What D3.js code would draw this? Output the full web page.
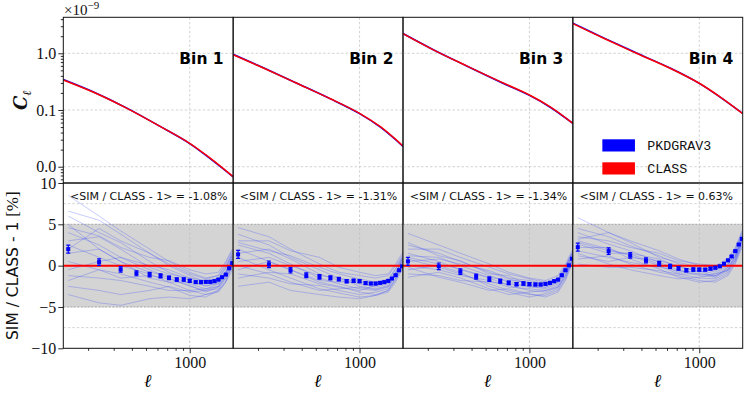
<!DOCTYPE html>
<html>
<head>
<meta charset="utf-8">
<script src="https://cdn.jsdelivr.net/npm/d3@7"></script>
<style>
  body { margin: 0; background: #fff; }
  svg { display: block; }
</style>
</head>
<body>
<script>
// ---- data ----
const binNames = ["Bin 1", "Bin 2", "Bin 3", "Bin 4"];
const meanText = ["-1.08%", "-1.31%", "-1.34%", "0.63%"];

// C_ell curves (units of 1e-9)
const ellCurve = [135, 220, 370, 630, 1000, 1390, 1990];
const classCl = [
  [0.338, 0.203, 0.107, 0.0510, 0.0259, 0.0140, 0.00667],
  [0.945, 0.544, 0.296, 0.158, 0.0875, 0.0507, 0.0232],
  [2.22, 1.14, 0.600, 0.316, 0.184, 0.114, 0.0582],
  [3.33, 1.84, 1.0, 0.544, 0.296, 0.170, 0.0861]
];
const pkdCl = [
  [0.345, 0.206, 0.108, 0.0508, 0.0256, 0.0137, 0.00662],
  [0.958, 0.550, 0.297, 0.157, 0.0862, 0.0497, 0.0229],
  [2.23, 1.145, 0.598, 0.312, 0.181, 0.112, 0.0581],
  [3.40, 1.87, 1.013, 0.549, 0.295, 0.169, 0.0868]
];

// mean ratio points with error bars
const ellBins = [146, 238, 335, 430, 530, 630, 720, 815, 910, 1000, 1100, 1195, 1290, 1385, 1480, 1575, 1670, 1770, 1870, 1965];
const meanRatio = [
  [2.0, 0.43, -0.45, -0.92, -1.08, -1.24, -1.48, -1.68, -1.68, -1.84, -2.0, -2.0, -1.96, -1.96, -1.88, -1.68, -1.4, -1.08, -0.32, 0.3],
  [1.36, 0.16, -0.56, -1.16, -1.36, -1.48, -1.64, -1.88, -1.84, -1.88, -2.12, -2.16, -2.16, -2.08, -2.0, -1.84, -1.56, -1.16, -0.56, -0.08],
  [0.52, -0.08, -0.72, -1.32, -1.64, -1.88, -2.08, -2.24, -2.16, -2.24, -2.28, -2.28, -2.2, -2.08, -1.88, -1.68, -1.16, -0.56, 0.04, 0.84],
  [2.24, 1.76, 1.24, 0.64, 0.24, -0.08, -0.32, -0.56, -0.48, -0.48, -0.48, -0.36, -0.24, -0.08, 0.24, 0.64, 1.12, 1.76, 2.56, 3.24]
];
const errRatio = [0.48, 0.4, 0.33, 0.3, 0.27, 0.25, 0.22, 0.2, 0.2, 0.18, 0.16, 0.15, 0.14, 0.13, 0.12, 0.12, 0.11, 0.1, 0.1, 0.1];

// individual simulations (thin lines)
const simEll = [146, 238, 335, 530, 720, 1000, 1290, 1575, 1770, 1965];
const simRatio = [
  [
    [8.5, 6.0, 4.2, 2.0, 0.5, -0.8, -1.5, -1.2, 0.3, 1.8],
    [6.6, 5.5, 3.8, 1.5, 0.0, -1.2, -2.0, -1.6, -0.2, 1.5],
    [6.0, 4.0, 2.8, 0.5, -0.8, -1.8, -2.5, -2.0, -0.8, 1.0],
    [4.6, 3.6, 2.2, 1.0, 0.6, -0.5, -1.0, -0.8, 0.5, 2.0],
    [4.0, 2.5, 1.0, -0.5, -1.5, -2.5, -3.0, -2.8, -1.5, 0.5],
    [3.0, 3.5, 2.0, -0.2, -1.0, -1.5, -1.8, -1.5, -0.3, 1.2],
    [2.5, 1.0, 0.0, -1.0, -2.0, -3.0, -3.5, -3.2, -2.0, 0.0],
    [1.5, 2.0, 0.5, -0.8, -1.2, -2.2, -2.8, -2.5, -1.0, 0.8],
    [0.5, -0.5, -1.0, -2.0, -2.6, -3.6, -3.8, -3.0, -1.8, 0.2],
    [-0.5, 0.5, 1.0, 0.0, -0.5, -1.5, -2.2, -2.0, -0.6, 1.2],
    [-1.2, -1.5, -1.8, -2.5, -3.0, -3.0, -2.8, -2.2, -1.0, 0.6],
    [-1.8, -0.5, -1.5, -1.2, -1.6, -2.4, -3.2, -2.6, -1.2, 0.4],
    [-2.5, -3.0, -3.5, -3.0, -2.5, -3.2, -3.0, -2.5, -1.5, 0.0],
    [-3.5, -4.5, -4.8, -4.0, -3.8, -4.0, -3.5, -3.0, -2.0, -0.5],
    [2.0, 4.5, 3.0, 1.5, 0.2, -1.0, -1.6, -1.2, 0.0, 1.5],
    [5.0, 2.0, 0.5, -1.5, -2.0, -2.0, -2.4, -2.2, -0.8, 0.8]
  ],
  [
    [4.6, 3.5, 2.0, 0.2, -0.8, -1.2, -1.5, -1.2, 0.0, 1.2],
    [3.8, 2.5, 1.0, -0.5, -1.5, -2.0, -2.4, -2.0, -0.8, 0.6],
    [3.0, 3.0, 1.8, 1.0, -0.2, -0.8, -1.2, -1.0, 0.2, 1.5],
    [2.5, 1.5, 0.2, -1.5, -2.2, -2.8, -3.0, -2.6, -1.2, 0.2],
    [2.0, 0.5, -0.5, -2.0, -2.5, -3.2, -3.5, -3.0, -1.8, -0.2],
    [1.5, 2.0, 0.8, -1.0, -1.8, -2.2, -2.6, -2.2, -1.0, 0.5],
    [1.0, -0.5, -1.5, -2.8, -3.3, -3.8, -3.6, -3.0, -1.5, 0.0],
    [0.5, 1.0, 0.0, -1.2, -1.5, -2.5, -2.8, -2.4, -1.0, 0.8],
    [0.0, -1.0, -2.0, -3.0, -2.8, -2.6, -2.9, -2.5, -1.2, 0.4],
    [-0.5, 0.5, -0.5, -1.8, -2.0, -1.8, -2.2, -1.8, -0.4, 1.0],
    [-1.0, -1.5, -2.2, -2.4, -3.0, -3.5, -3.2, -2.8, -1.6, 0.2],
    [-1.5, -0.8, -1.0, -2.2, -2.6, -3.0, -2.4, -2.0, -0.8, 0.8],
    [-2.5, -2.0, -3.0, -3.5, -3.8, -4.0, -3.6, -3.2, -2.0, -0.4],
    [2.8, 1.8, 1.2, -0.2, -1.0, -1.6, -2.0, -1.6, -0.4, 1.0]
  ],
  [
    [3.9, 2.5, 1.5, 0.2, -0.8, -1.5, -1.8, -1.2, 0.2, 1.8],
    [2.5, 1.5, 0.5, -0.8, -1.6, -2.2, -2.6, -2.0, -0.6, 1.2],
    [2.0, 2.0, 1.0, -0.2, -1.0, -1.6, -2.0, -1.5, 0.0, 1.5],
    [1.5, 0.5, -0.5, -1.5, -2.4, -3.0, -3.2, -2.6, -1.2, 0.6],
    [1.2, 1.0, 0.0, -1.2, -2.0, -2.5, -2.8, -2.2, -0.8, 1.0],
    [0.8, -0.2, -1.0, -2.2, -3.0, -3.5, -3.6, -3.0, -1.6, 0.4],
    [0.5, 0.8, 0.2, -0.6, -1.5, -1.8, -2.2, -1.8, -0.4, 1.4],
    [0.0, -0.5, -1.2, -1.8, -2.6, -2.8, -3.0, -2.4, -1.0, 0.8],
    [-0.5, 0.0, -0.8, -2.5, -3.2, -3.8, -3.4, -2.8, -1.4, 0.5],
    [-1.0, -1.2, -1.8, -2.0, -2.2, -2.6, -2.6, -2.0, -0.6, 1.1],
    [-1.4, -0.8, -1.5, -2.8, -3.5, -3.2, -3.0, -2.6, -1.2, 0.6],
    [1.0, 0.2, -0.4, -1.4, -1.8, -2.0, -2.4, -1.8, -0.2, 1.6],
    [-0.2, -1.4, -2.0, -3.0, -2.8, -3.4, -3.8, -3.2, -1.8, 0.2],
    [2.8, 1.2, 0.6, -1.0, -1.2, -2.4, -2.2, -1.6, -0.2, 1.4]
  ],
  [
    [5.8, 4.0, 3.0, 1.8, 0.8, 0.0, -0.2, 0.5, 2.0, 4.2],
    [4.5, 3.5, 2.4, 1.2, 0.2, -0.4, -0.6, 0.2, 1.6, 3.8],
    [4.0, 2.6, 1.8, 0.4, -0.5, -1.0, -1.2, -0.5, 1.0, 3.2],
    [3.5, 3.0, 2.2, 1.5, 0.6, 0.2, 0.0, 0.8, 2.2, 4.0],
    [3.0, 2.0, 1.2, 0.0, -1.0, -1.5, -1.6, -0.8, 0.6, 2.8],
    [2.6, 1.5, 1.5, 0.8, -0.2, -0.6, -1.0, -0.2, 1.2, 3.4],
    [2.2, 2.2, 0.8, -0.4, -1.4, -2.0, -1.8, -1.0, 0.4, 2.4],
    [1.8, 1.0, 0.4, -0.2, -0.6, -1.2, -1.4, -0.6, 0.8, 3.0],
    [1.2, 0.5, 1.0, 0.6, 0.0, -0.8, -0.4, 0.2, 1.4, 3.6],
    [0.8, 1.2, 0.2, -0.8, -1.2, -1.8, -2.0, -1.2, 0.2, 2.2],
    [0.2, -0.2, -0.2, -0.6, -1.0, -1.0, -1.2, -0.4, 1.0, 3.0],
    [3.2, 4.0, 2.8, 1.0, 0.4, -0.2, -0.8, 0.0, 1.8, 3.6],
    [1.5, 0.2, -0.5, -1.2, -1.6, -1.4, -1.0, -0.6, 0.6, 2.6],
    [2.8, 1.8, 1.4, 0.2, -0.8, -0.6, -1.4, -0.2, 1.2, 3.2]
  ]
];

// axes
const ellDomain = [135, 1990];
const clDomain = [0.00516, 4.31];
const ratioDomain = [-10, 10];
const topTicks = [0.01, 0.1, 1];
const topTickLabels = ["0.0", "0.1", "1.0"];
const botTicks = [-10, -5, 0, 5, 10];
const botTickLabels = ["\u221210", "\u22125", "0", "5", "10"];
const botGrid = [-7.5, -5, -2.5, 0, 2.5, 5, 7.5];
const xTicks = [1000];
const xTickLabels = ["1000"];
const legendItems = [{name: "PKDGRAV3", color: "#0000ff"}, {name: "CLASS", color: "#ff0000"}];

// ---- layout ----
const W = 747, H = 393;
const marginLeft = 63.3, marginTop = 17.3;
const panelW = 169.85, topH = 165.7, botH = 165.3;
const serif = "'Liberation Serif', 'DejaVu Serif', serif";

const svg = d3.select("body").append("svg")
  .attr("width", W).attr("height", H);

const x = d3.scaleLog().domain(ellDomain).range([0, panelW]);
const yTop = d3.scaleLog().domain(clDomain).range([topH, 0]);
const yBot = d3.scaleLinear().domain(ratioDomain).range([botH, 0]);

const defs = svg.append("defs");
defs.append("clipPath").attr("id", "clipTop").append("rect")
  .attr("width", panelW).attr("height", topH);
defs.append("clipPath").attr("id", "clipBot").append("rect")
  .attr("width", panelW).attr("height", botH);

const topLine = d3.line().x(d => x(d[0])).y(d => yTop(d[1])).curve(d3.curveCatmullRom.alpha(0.5));
const simLine = d3.line().x(d => x(d[0])).y(d => yBot(d[1])).curve(d3.curveLinear);

binNames.forEach((bin, i) => {
  const px = marginLeft + i * panelW;

  // ---------- top panel ----------
  const gt = svg.append("g").attr("transform", `translate(${px},${marginTop})`);
  const gtc = gt.append("g").attr("clip-path", "url(#clipTop)");

  gtc.selectAll(".hgrid").data(topTicks).enter().append("line")
    .attr("x1", 0).attr("x2", panelW)
    .attr("y1", d => yTop(d)).attr("y2", d => yTop(d))
    .attr("stroke", "#c8c8c8").attr("stroke-width", 0.8).attr("stroke-dasharray", "2.5,2");
  gtc.selectAll(".vgrid").data(xTicks).enter().append("line")
    .attr("x1", d => x(d)).attr("x2", d => x(d))
    .attr("y1", 0).attr("y2", topH)
    .attr("stroke", "#c8c8c8").attr("stroke-width", 0.8).attr("stroke-dasharray", "2.5,2");

  gtc.append("path")
    .datum(ellCurve.map((l, j) => [l, pkdCl[i][j]]))
    .attr("d", topLine).attr("fill", "none")
    .attr("stroke", "#0000ff").attr("stroke-width", 1.6);
  gtc.append("path")
    .datum(ellCurve.map((l, j) => [l, classCl[i][j]]))
    .attr("d", topLine).attr("fill", "none")
    .attr("stroke", "#ff0000").attr("stroke-width", 1.5);

  gt.append("text")
    .attr("x", panelW - 9.5).attr("y", 46.5)
    .attr("text-anchor", "end")
    .style("font-family", "'DejaVu Sans', sans-serif")
    .style("font-weight", "bold").style("font-size", "15.5px")
    .text(bin);

  gt.append("rect").attr("width", panelW).attr("height", topH)
    .attr("fill", "none").attr("stroke", "#111").attr("stroke-width", 1);

  // ---------- bottom panel ----------
  const gb = svg.append("g").attr("transform", `translate(${px},${marginTop + topH})`);
  const gbc = gb.append("g").attr("clip-path", "url(#clipBot)");

  gbc.selectAll(".hgrid").data(botGrid).enter().append("line")
    .attr("x1", 0).attr("x2", panelW)
    .attr("y1", d => yBot(d)).attr("y2", d => yBot(d))
    .attr("stroke", "#c8c8c8").attr("stroke-width", 0.8).attr("stroke-dasharray", "2.5,2");

  gbc.append("rect")
    .attr("x", 0).attr("width", panelW)
    .attr("y", yBot(5)).attr("height", yBot(-5) - yBot(5))
    .attr("fill", "#d4d4d4");
  gbc.selectAll(".band").data([-5, 5]).enter().append("line")
    .attr("x1", 0).attr("x2", panelW)
    .attr("y1", d => yBot(d)).attr("y2", d => yBot(d))
    .attr("stroke", "#9a9a9a").attr("stroke-width", 0.8).attr("stroke-dasharray", "2,1.5");

  gbc.selectAll(".vgrid").data(xTicks).enter().append("line")
    .attr("x1", d => x(d)).attr("x2", d => x(d))
    .attr("y1", 0).attr("y2", botH)
    .attr("stroke", "#c0c0c0").attr("stroke-width", 0.8).attr("stroke-dasharray", "2.5,2");

  gbc.selectAll(".sim").data(simRatio[i]).enter().append("path")
    .attr("d", s => simLine(simEll.map((l, j) => [l, s[j]])))
    .attr("fill", "none").attr("stroke", "#3344ff")
    .attr("stroke-opacity", 0.35).attr("stroke-width", 0.8);

  gbc.append("line")
    .attr("x1", 0).attr("x2", panelW)
    .attr("y1", yBot(0)).attr("y2", yBot(0))
    .attr("stroke", "#ff0000").attr("stroke-width", 2);

  const pts = ellBins.map((l, j) => ({l: l, v: meanRatio[i][j], e: errRatio[j]}));
  const eb = gbc.selectAll(".eb").data(pts).enter().append("g");
  eb.append("line")
    .attr("x1", d => x(d.l)).attr("x2", d => x(d.l))
    .attr("y1", d => yBot(d.v - d.e)).attr("y2", d => yBot(d.v + d.e))
    .attr("stroke", "#0000ff").attr("stroke-width", 1.2);
  eb.selectAll(".cap").data(d => [[d.l, d.v - d.e], [d.l, d.v + d.e]]).enter().append("line")
    .attr("x1", d => x(d[0]) - 2).attr("x2", d => x(d[0]) + 2)
    .attr("y1", d => yBot(d[1])).attr("y2", d => yBot(d[1]))
    .attr("stroke", "#0000ff").attr("stroke-width", 1.2);
  eb.append("rect")
    .attr("x", d => x(d.l) - 2).attr("y", d => yBot(d.v) - 2)
    .attr("width", 4).attr("height", 4)
    .attr("fill", "#0000ff");

  gb.append("text")
    .attr("x", 6.7).attr("y", 17)
    .style("font-family", "'DejaVu Sans', sans-serif")
    .style("font-size", "11px").attr("fill", "#111")
    .text("<SIM / CLASS - 1> = " + meanText[i]);

  gb.append("rect").attr("width", panelW).attr("height", botH)
    .attr("fill", "none").attr("stroke", "#111").attr("stroke-width", 1);

  // x axis (bottom)
  const xMajor = gb.append("g").attr("transform", `translate(0,${botH})`)
    .call(d3.axisBottom(x).tickValues(xTicks).tickFormat((d, k) => xTickLabels[k])
      .tickSize(5).tickPadding(3));
  const xMinor = gb.append("g").attr("transform", `translate(0,${botH})`)
    .call(d3.axisBottom(x).tickValues(x.ticks().filter(t => xTicks.indexOf(t) < 0))
      .tickSize(2.5).tickFormat(""));
  [xMajor, xMinor].forEach(g => {
    g.select(".domain").remove();
    g.selectAll("line").attr("stroke", "#111").attr("stroke-width", 0.9);
    g.selectAll("text").style("font-family", serif).style("font-size", "16px").attr("fill", "#111");
  });

  gb.append("text")
    .attr("x", panelW / 2).attr("y", botH + 38.5)
    .attr("text-anchor", "middle")
    .style("font-family", "'DejaVu Serif', serif")
    .style("font-style", "italic").style("font-weight", "bold")
    .style("font-size", "18px")
    .text("\u2113");

  // y axes on first column
  if (i === 0) {
    const ytMajor = gt.append("g")
      .call(d3.axisLeft(yTop).tickValues(topTicks).tickFormat((d, k) => topTickLabels[k])
        .tickSize(5).tickPadding(2));
    const ytMinor = gt.append("g")
      .call(d3.axisLeft(yTop).tickValues(yTop.ticks().filter(t => topTicks.indexOf(t) < 0))
        .tickSize(2.5).tickFormat(""));
    const ybMajor = gb.append("g")
      .call(d3.axisLeft(yBot).tickValues(botTicks).tickFormat((d, k) => botTickLabels[k])
        .tickSize(5).tickPadding(2));
    [ytMajor, ytMinor, ybMajor].forEach(g => {
      g.select(".domain").remove();
      g.selectAll("line").attr("stroke", "#111").attr("stroke-width", 0.9);
      g.selectAll("text").style("font-family", serif).style("font-size", "16px").attr("fill", "#111");
    });
  }

  // legend in last column
  if (i === binNames.length - 1) {
    const lg = gt.append("g").attr("transform", "translate(29.5,122)");
    const li = lg.selectAll(".li").data(legendItems).enter().append("g")
      .attr("transform", (d, k) => `translate(0,${k * 23})`);
    li.append("rect").attr("width", 32.6).attr("height", 12.2).attr("fill", d => d.color);
    li.append("text").attr("x", 45).attr("y", 10.5)
      .style("font-family", "'Liberation Mono', 'DejaVu Sans Mono', monospace")
      .style("font-size", "13.3px").attr("fill", "#111")
      .text(d => d.name);
  }
});

// offset text above the top-left axis
const off = svg.append("text").attr("x", 64).attr("y", 15)
  .style("font-family", serif).style("font-size", "15px").attr("fill", "#111");
off.append("tspan").text("\u00d710");
off.append("tspan").attr("dy", -6).style("font-size", "11px").text("\u22129");

// y labels
svg.append("text")
  .attr("transform", `translate(27,${marginTop + topH / 2}) rotate(-90)`)
  .attr("text-anchor", "middle")
  .style("font-family", "'DejaVu Serif', serif")
  .style("font-style", "italic").style("font-weight", "bold")
  .style("font-size", "18px").attr("fill", "#111")
  .call(t => {
    t.append("tspan").text("C");
    t.append("tspan").attr("dy", 4).style("font-size", "12px").text("\u2113");
  });

svg.append("text")
  .attr("transform", `translate(18,${marginTop + topH + botH / 2}) rotate(-90)`)
  .attr("text-anchor", "middle")
  .style("font-family", "'DejaVu Sans', sans-serif")
  .style("font-size", "15.5px").attr("fill", "#111")
  .call(t => {
    t.append("tspan").text("SIM / CLASS - 1 ");
    t.append("tspan").style("font-family", serif).style("font-size", "17px").text("[%]");
  });
</script>
</body>
</html>
